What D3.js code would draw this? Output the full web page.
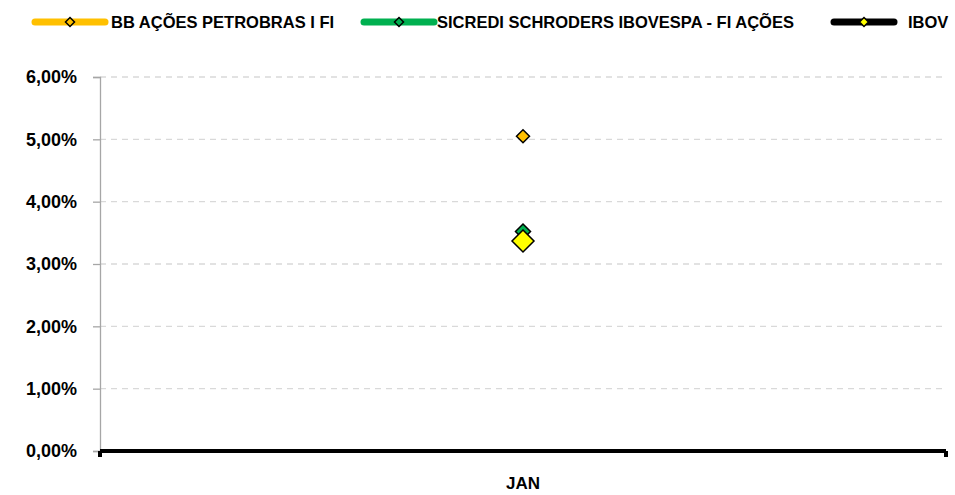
<!DOCTYPE html>
<html>
<head>
<meta charset="utf-8">
<script src="https://cdn.jsdelivr.net/npm/d3@7"></script>
<style>
  body { margin: 0; background: #fff; }
  text { font-family: "Liberation Sans", Arial, sans-serif; font-weight: bold; }
</style>
</head>
<body>
<div id="chart"></div>
<script>
// data
var months = ["JAN"];
var seriesNames = ["BB AÇÕES PETROBRAS I FI", "SICREDI SCHRODERS IBOVESPA - FI AÇÕES", "IBOV"];
var seriesColors = ["#FFC000", "#00B050", "#000000"];
var markerColors = ["#FFC000", "#00B050", "#FFFF00"];
var bbValues = [5.05];
var sicrediValues = [3.52];
var ibovValues = [3.37];
var yTicks = [0, 1, 2, 3, 4, 5, 6];

var width = 955, height = 495;
var margin = { left: 100, right: 9, top: 77, bottom: 44 };

var svg = d3.select("#chart").append("svg")
    .attr("width", width)
    .attr("height", height);

var x = d3.scaleBand().domain(months).range([margin.left, width - margin.right]);
var y = d3.scaleLinear().domain([0, 6]).range([height - margin.bottom, margin.top]);

var fmt = function (d) { return d.toFixed(2).replace(".", ",") + "%"; };

//Grid lines
svg.append("g").selectAll("line")
    .data(yTicks.filter(function (d) { return d > 0; }))
    .enter().append("line")
    .attr("x1", margin.left).attr("x2", width - margin.right)
    .attr("y1", function (d) { return y(d); }).attr("y2", function (d) { return y(d); })
    .attr("stroke", "#d9d9d9").attr("stroke-width", 1.3)
    .attr("stroke-dasharray", "6,5");

//Y axis
var yAxis = svg.append("g")
    .attr("transform", "translate(" + margin.left + ",0)")
    .call(d3.axisLeft(y).tickValues(yTicks).tickFormat(fmt).tickSize(7).tickPadding(16));
yAxis.select(".domain").attr("stroke", "#a6a6a6").attr("stroke-width", 1.3);
yAxis.selectAll(".tick line").attr("stroke", "#a6a6a6").attr("stroke-width", 1.3);
yAxis.selectAll("text").attr("font-size", 18).attr("fill", "#000")
    .style("font-family", "\"Liberation Sans\", Arial, sans-serif").style("font-weight", "bold");

//X axis (thick black)
var x0 = margin.left, x1 = width - margin.right, yb = y(0);
svg.append("line").attr("x1", x0).attr("x2", x1).attr("y1", yb).attr("y2", yb)
    .attr("stroke", "#000").attr("stroke-width", 4);
svg.selectAll(".endtick").data([x0, x1]).enter().append("rect")
    .attr("x", function (d) { return d - 2; }).attr("y", yb)
    .attr("width", 4).attr("height", 6).attr("fill", "#000");

svg.append("g").selectAll("text").data(months).enter().append("text")
    .attr("x", function (d) { return x(d) + x.bandwidth() / 2; })
    .attr("y", 489)
    .attr("text-anchor", "middle")
    .attr("font-size", 17)
    .text(function (d) { return d; });

//Markers
var series = [
    { name: seriesNames[0], values: bbValues, fill: markerColors[0], size: 6.5 },
    { name: seriesNames[1], values: sicrediValues, fill: markerColors[1], size: 7.5 },
    { name: seriesNames[2], values: ibovValues, fill: markerColors[2], size: 11 }
];

function diamond(cx, cy, r) {
    return "M" + cx + "," + (cy - r) + "L" + (cx + r) + "," + cy + "L" + cx + "," + (cy + r) + "L" + (cx - r) + "," + cy + "Z";
}

series.forEach(function (s) {
    svg.append("g").selectAll("path").data(s.values).enter().append("path")
        .attr("d", function (d, i) { return diamond(x(months[i]) + x.bandwidth() / 2, y(d), s.size); })
        .attr("fill", s.fill)
        .attr("stroke", "#000")
        .attr("stroke-width", 1.5);
});

//Legend
var legendItems = [
    { x: 35, w: 70, tx: 111 },
    { x: 364, w: 70, tx: 437 },
    { x: 834, w: 60, tx: 908 }
];
var ly = 22;
legendItems.forEach(function (l, i) {
    svg.append("line").attr("x1", l.x).attr("x2", l.x + l.w).attr("y1", ly).attr("y2", ly)
        .attr("stroke", seriesColors[i]).attr("stroke-width", 7).attr("stroke-linecap", "round");
    svg.append("path").attr("d", diamond(l.x + l.w / 2, ly, 4.5))
        .attr("fill", markerColors[i]).attr("stroke", "#000").attr("stroke-width", 1.5);
    svg.append("text").attr("x", l.tx).attr("y", 28)
        .attr("font-size", 16.5).text(seriesNames[i]);
});
</script>
</body>
</html>
